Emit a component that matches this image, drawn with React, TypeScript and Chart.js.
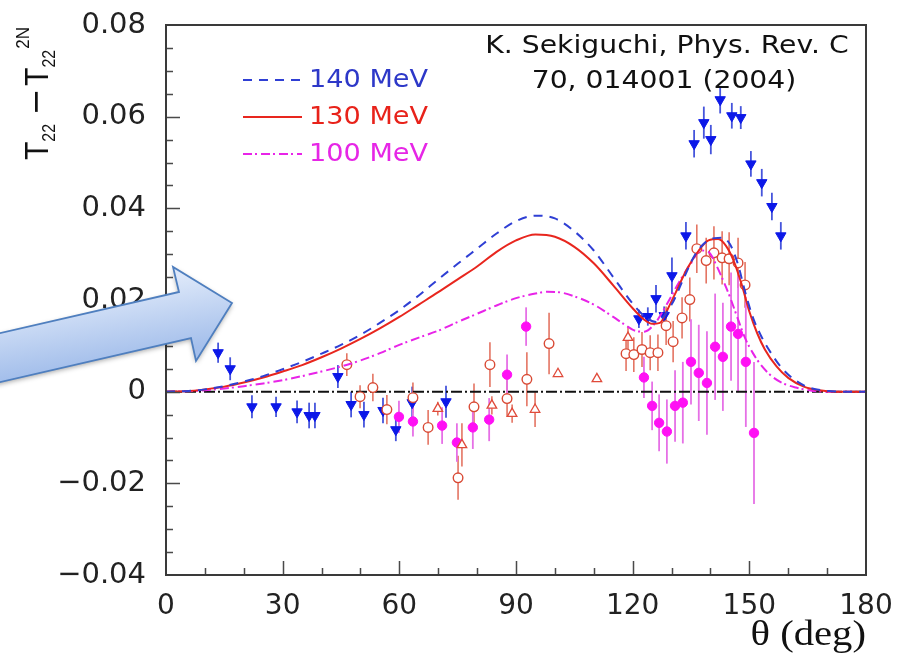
import React, { useEffect, useRef } from "react";
import { Chart, registerables } from "chart.js";

Chart.register(...registerables);

// ---- axes ----
const xTickValues = [0, 30, 60, 90, 120, 150, 180];
const xTickLabels = ["0", "30", "60", "90", "120", "150", "180"];
const yTickValues = [-0.04, -0.02, 0, 0.02, 0.04, 0.06, 0.08];
const yTickLabels = ["−0.04", "−0.02", "0", "0.02", "0.04", "0.06", "0.08"];

// ---- theoretical curves ----
const curveLabels = ["140 MeV", "130 MeV", "100 MeV"];

const theta140 = [0, 5, 10, 15, 20, 25, 30, 35, 40, 45, 50, 55, 60, 65, 70, 75, 80, 85, 90, 95, 100, 105, 110, 115, 120, 123, 126, 130, 133, 136, 139, 141, 143, 145, 147, 149, 151, 153, 155, 158, 161, 165, 170, 175, 180];
const value140 = [0, 0.0001, 0.0005, 0.0012, 0.0022, 0.0034, 0.0049, 0.0065, 0.0083, 0.0102, 0.0124, 0.015, 0.0178, 0.021, 0.0245, 0.0279, 0.0312, 0.0345, 0.0372, 0.0384, 0.0378, 0.035, 0.0308, 0.025, 0.0192, 0.0165, 0.0152, 0.019, 0.0245, 0.0298, 0.0328, 0.0335, 0.0336, 0.0322, 0.028, 0.0215, 0.016, 0.0122, 0.0092, 0.0055, 0.003, 0.001, 0.0002, 0, 0];

const theta130 = [0, 5, 10, 15, 20, 25, 30, 35, 40, 45, 50, 55, 60, 65, 70, 75, 80, 85, 90, 95, 100, 105, 110, 115, 120, 123, 125, 127, 129, 131, 134, 137, 139.5, 142, 144, 146, 148, 150, 152, 154, 157, 160, 164, 168, 172, 180];
const value130 = [0, 0.0001, 0.0005, 0.0011, 0.002, 0.0031, 0.0044, 0.0058, 0.0075, 0.0094, 0.0115, 0.0138, 0.0163, 0.019, 0.0217, 0.0245, 0.0273, 0.0305, 0.033, 0.0343, 0.0338, 0.0316, 0.028, 0.0232, 0.0182, 0.0157, 0.0148, 0.015, 0.018, 0.0215, 0.0268, 0.0308, 0.033, 0.0333, 0.0318, 0.0285, 0.0235, 0.0175, 0.0128, 0.0092, 0.0055, 0.003, 0.0011, 0.0003, 0, 0];

const theta100 = [0, 5, 10, 15, 20, 25, 30, 35, 40, 45, 50, 55, 60, 65, 70, 75, 80, 85, 90, 95, 98, 101, 105, 110, 115, 118, 121, 123, 126, 129, 132, 135, 137.5, 139.5, 141.5, 143.5, 145, 147, 149, 151, 153, 156, 159, 162, 166, 170, 180];
const value100 = [0, 0.0001, 0.0003, 0.0007, 0.0012, 0.0018, 0.0025, 0.0034, 0.0044, 0.0055, 0.0068, 0.0084, 0.0102, 0.0118, 0.0133, 0.0152, 0.017, 0.0188, 0.0204, 0.0214, 0.0218, 0.0217, 0.0208, 0.019, 0.0163, 0.0146, 0.0132, 0.0131, 0.0152, 0.0194, 0.024, 0.028, 0.0308, 0.0305, 0.0276, 0.0238, 0.0207, 0.016, 0.0115, 0.0083, 0.0058, 0.0032, 0.0017, 0.0009, 0.0002, 0, 0];

// reference line at zero
const zeroTheta = [0, 180];
const zeroValue = [0, 0];

// ---- measured points ----
// blue downward triangles
const triDownTheta = [13.4, 16.5, 22.1, 28.3, 33.7, 36.8, 38.3, 44.2, 47.6, 50.9, 55.8, 59.1, 63.3, 72.0, 121.6, 123.9, 126.0, 128.1, 130.1, 133.7, 135.8, 138.3, 140.1, 142.5, 145.5, 147.8, 150.4, 153.2, 155.8, 158.1];
const triDownValue = [0.0085, 0.005, -0.0033, -0.0033, -0.0044, -0.0052, -0.0052, 0.0033, -0.0028, -0.005, -0.0041, -0.0083, -0.0024, -0.0022, 0.0159, 0.0164, 0.0203, 0.0166, 0.0253, 0.034, 0.0541, 0.0587, 0.055, 0.0637, 0.0602, 0.0598, 0.0497, 0.0456, 0.0404, 0.034];
const triDownError = [0.0022, 0.0025, 0.0025, 0.0022, 0.0025, 0.0028, 0.0028, 0.0025, 0.0028, 0.0028, 0.0028, 0.0025, 0.0035, 0.0035, 0.002, 0.002, 0.003, 0.002, 0.004, 0.003, 0.003, 0.0035, 0.0032, 0.003, 0.0028, 0.0025, 0.0028, 0.003, 0.003, 0.003];

// red open circles
const openCircleTheta = [46.5, 49.9, 53.2, 56.8, 63.5, 67.4, 75.1, 79.2, 83.3, 87.7, 92.8, 98.5, 118.3, 120.3, 122.4, 124.5, 126.5, 128.6, 130.4, 132.7, 134.7, 136.5, 138.9, 140.9, 143.0, 144.8, 147.1, 148.9];
const openCircleValue = [0.0059, -0.0011, 0.0009, -0.0039, -0.0013, -0.0078, -0.0188, -0.0033, 0.0059, -0.0015, 0.0027, 0.0105, 0.0083, 0.0081, 0.0092, 0.0085, 0.0085, 0.0144, 0.0109, 0.0161, 0.0201, 0.0312, 0.0286, 0.0303, 0.0292, 0.029, 0.0281, 0.0233];
const openCircleError = [0.0025, 0.0025, 0.003, 0.0032, 0.0033, 0.0038, 0.0048, 0.0051, 0.0049, 0.004, 0.0059, 0.0067, 0.0038, 0.0038, 0.0038, 0.0038, 0.004, 0.0042, 0.0045, 0.0045, 0.0048, 0.0053, 0.005, 0.0058, 0.0058, 0.0058, 0.0055, 0.005];

// magenta filled circles
const dotTheta = [59.9, 63.5, 71.0, 74.8, 78.9, 83.1, 87.7, 92.6, 122.9, 125.0, 126.8, 128.8, 130.9, 132.9, 135.0, 137.0, 139.1, 141.2, 143.2, 145.3, 147.1, 149.1, 151.2];
const dotValue = [-0.0055, -0.0065, -0.0074, -0.0111, -0.0078, -0.0061, 0.0037, 0.0142, 0.0031, -0.0031, -0.0068, -0.0087, -0.0031, -0.0024, 0.0065, 0.0041, 0.0019, 0.0098, 0.0076, 0.0142, 0.0126, 0.0065, -0.009];
const dotError = [0.0035, 0.0033, 0.004, 0.0042, 0.0047, 0.0047, 0.0044, 0.0042, 0.0045, 0.0053, 0.0062, 0.007, 0.0078, 0.0089, 0.0093, 0.0105, 0.0113, 0.0116, 0.0118, 0.0118, 0.0127, 0.0142, 0.0155];

// red open triangles
const triUpTheta = [69.9, 76.1, 83.8, 89.0, 94.9, 100.8, 110.8, 118.8];
const triUpValue = [-0.0037, -0.0116, -0.003, -0.0048, -0.0039, 0.0039, 0.0028, 0.0118];
const triUpError = [0.0015, 0.0047, 0.002, 0.002, 0.0038, 0, 0, 0.0025];

// ---- annotation text ----
const referenceLines = ["K. Sekiguchi, Phys. Rev. C", "70, 014001 (2004)"];
const xTitle = "θ (deg)";

const SANS = '"DejaVu Sans", "Liberation Sans", sans-serif';
const STRETCH = 1.13;

const toPoints = (xs: number[], ys: number[]) => xs.map((x, i) => ({ x, y: ys[i] }));

// keep the plot box fixed: no extra room reserved for overhanging tick labels
const noOverhang = (s: any) => {
  s.paddingTop = 0;
  s.paddingBottom = 0;
  s.paddingLeft = 0;
  s.paddingRight = 0;
};

// vertical error bars, drawn beneath the markers
const errorBarPlugin = {
  id: "errorBars",
  beforeDatasetsDraw(chart: any) {
    const { ctx, chartArea: a, scales } = chart;
    const xs = scales.x;
    const ys = scales.y;
    ctx.save();
    ctx.beginPath();
    ctx.rect(a.left, a.top, a.width, a.height);
    ctx.clip();
    chart.data.datasets.forEach((ds: any) => {
      if (!ds.errors) return;
      ctx.strokeStyle = ds.errorColor;
      ctx.lineWidth = ds.errorWidth;
      ds.data.forEach((p: any, j: number) => {
        const e = ds.errors[j];
        if (!e) return;
        const px = xs.getPixelForValue(p.x);
        ctx.beginPath();
        ctx.moveTo(px, ys.getPixelForValue(p.y - e));
        ctx.lineTo(px, ys.getPixelForValue(p.y + e));
        ctx.stroke();
      });
    });
    ctx.restore();
  },
};

// frame with inward major/minor ticks
const framePlugin = {
  id: "frame",
  afterDatasetsDraw(chart: any) {
    const { ctx, chartArea: a, scales } = chart;
    const xs = scales.x;
    const ys = scales.y;
    ctx.save();
    ctx.strokeStyle = "#4a4a4a";
    ctx.lineWidth = 1.5;
    ctx.beginPath();
    for (let k = 1; k < 18; k++) {
      const px = Math.round(xs.getPixelForValue(k * 10)) + 0.5;
      const len = k % 3 === 0 ? 14 : 7;
      ctx.moveTo(px, a.bottom);
      ctx.lineTo(px, a.bottom - len);
    }
    for (let k = -7; k < 16; k++) {
      const py = Math.round(ys.getPixelForValue(k * 0.005)) + 0.5;
      const len = k % 4 === 0 ? 14 : 7;
      ctx.moveTo(a.left, py);
      ctx.lineTo(a.left + len, py);
    }
    ctx.stroke();
    ctx.strokeStyle = "#3a3a3a";
    ctx.lineWidth = 2;
    ctx.strokeRect(a.left, a.top, a.width, a.height);
    ctx.restore();
  },
};

// legend, reference note, axis titles and the pointer arrow
const decorPlugin = {
  id: "decor",
  afterDraw(chart: any) {
    const { ctx, chartArea: a } = chart;
    ctx.save();

    // legend for the three calculations
    const rows = [a.top + 55, a.top + 92, a.top + 129];
    for (let i = 0; i < 3; i++) {
      const ds = chart.data.datasets[i];
      const y = rows[i];
      ctx.save();
      ctx.strokeStyle = ds.borderColor;
      ctx.lineWidth = ds.borderWidth;
      ctx.setLineDash(ds.borderDash || []);
      ctx.beginPath();
      ctx.moveTo(a.left + 77, y);
      ctx.lineTo(a.left + 136, y);
      ctx.stroke();
      ctx.restore();
      ctx.save();
      ctx.translate(a.left + 143, y);
      ctx.scale(STRETCH, 1);
      ctx.fillStyle = ds.legendTextColor;
      ctx.font = `24px ${SANS}`;
      ctx.textBaseline = "middle";
      ctx.fillText(curveLabels[i], 0, 1);
      ctx.restore();
    }

    // reference note
    ctx.fillStyle = "#111";
    ctx.font = `25px ${SANS}`;
    ctx.textAlign = "center";
    ctx.textBaseline = "alphabetic";
    const noteX = [667, 664];
    const noteY = [53, 88];
    referenceLines.forEach((t, i) => {
      ctx.save();
      ctx.translate(noteX[i], noteY[i]);
      ctx.scale(STRETCH, 1);
      ctx.fillText(t, 0, 0);
      ctx.restore();
    });

    // x axis title
    ctx.save();
    ctx.translate(a.right, 645);
    ctx.scale(STRETCH, 1);
    ctx.textAlign = "right";
    ctx.font = '36px "Liberation Serif", "DejaVu Serif", serif';
    ctx.fillStyle = "#111";
    ctx.fillText(xTitle, 0, 0);
    ctx.restore();

    // y axis title: T22 - T22^2N, rotated
    ctx.save();
    ctx.translate(48, 160);
    ctx.scale(STRETCH, 1);
    ctx.rotate(-Math.PI / 2);
    ctx.fillStyle = "#111";
    ctx.textAlign = "left";
    ctx.textBaseline = "alphabetic";
    let u = 0;
    const put = (txt: string, size: number, v: number) => {
      ctx.font = `${size}px "Liberation Sans", sans-serif`;
      ctx.fillText(txt, u, v);
      u += ctx.measureText(txt).width;
    };
    put("T", 30, 0);
    put("22", 16, 6);
    u += 12;
    ctx.fillRect(u, -11.5, 20, 2.4);
    u += 26;
    put("T", 30, 0);
    put("22", 16, 6);
    u += 1;
    put("2N", 17, -17);
    ctx.restore();

    // pointer arrow
    ctx.save();
    ctx.beginPath();
    ctx.moveTo(-30, 340);
    ctx.lineTo(179, 292);
    ctx.lineTo(173, 267);
    ctx.lineTo(232, 303);
    ctx.lineTo(196, 361);
    ctx.lineTo(191, 338);
    ctx.lineTo(-30, 389);
    ctx.closePath();
    const g = ctx.createLinearGradient(100, 290, 112, 362);
    g.addColorStop(0, "#dce7f9");
    g.addColorStop(1, "#a4bfeb");
    ctx.fillStyle = g;
    ctx.shadowColor = "rgba(0,0,0,0.35)";
    ctx.shadowBlur = 5;
    ctx.shadowOffsetY = 2;
    ctx.fill();
    ctx.shadowColor = "transparent";
    ctx.strokeStyle = "#4f7fbf";
    ctx.lineWidth = 1.8;
    ctx.lineJoin = "miter";
    ctx.stroke();
    ctx.restore();

    ctx.restore();
  },
};

export default function App() {
  const canvasRef = useRef<HTMLCanvasElement | null>(null);

  useEffect(() => {
    const canvas = canvasRef.current;
    if (!canvas) return;

    const curve = (label: string, xs: number[], ys: number[], color: string, dash: number[], textColor: string) => ({
      type: "line" as const,
      label,
      data: toPoints(xs, ys),
      showLine: true,
      borderColor: color,
      borderWidth: 2,
      borderDash: dash,
      pointRadius: 0,
      fill: false,
      cubicInterpolationMode: "monotone" as const,
      legendTextColor: textColor,
      order: 0,
    });

    const chart = new Chart(canvas, {
      type: "scatter",
      data: {
        datasets: [
          curve(curveLabels[0], theta140, value140, "#2f3fd4", [9, 7], "#2d38c8"),
          curve(curveLabels[1], theta130, value130, "#e8261e", [], "#e8221a"),
          curve(curveLabels[2], theta100, value100, "#e824e8", [9, 3, 2, 4], "#e626e6"),
          {
            type: "line" as const,
            label: "zero",
            data: toPoints(zeroTheta, zeroValue),
            showLine: true,
            borderColor: "#111",
            borderWidth: 2,
            borderDash: [11, 3, 2, 3],
            pointRadius: 0,
            order: 6,
          },
          {
            label: "down triangles",
            data: toPoints(triDownTheta, triDownValue),
            pointStyle: "triangle",
            pointRotation: 180,
            pointRadius: 6,
            pointBackgroundColor: "#0c18e8",
            pointBorderColor: "#0c18e8",
            pointBorderWidth: 1,
            errors: triDownError,
            errorColor: "#4655dc",
            errorWidth: 1.8,
            order: 3,
          },
          {
            label: "open circles",
            data: toPoints(openCircleTheta, openCircleValue),
            pointStyle: "circle",
            pointRadius: 4.8,
            pointBackgroundColor: "#ffffff",
            pointBorderColor: "#d94a35",
            pointBorderWidth: 1.4,
            errors: openCircleError,
            errorColor: "#e0604c",
            errorWidth: 1.4,
            order: 2,
          },
          {
            label: "filled circles",
            data: toPoints(dotTheta, dotValue),
            pointStyle: "circle",
            pointRadius: 4.7,
            pointBackgroundColor: "#ff10f4",
            pointBorderColor: "#ff10f4",
            pointBorderWidth: 1,
            errors: dotError,
            errorColor: "#e670e6",
            errorWidth: 1.8,
            order: 4,
          },
          {
            label: "open triangles",
            data: toPoints(triUpTheta, triUpValue),
            pointStyle: "triangle",
            pointRadius: 5.5,
            pointBackgroundColor: "#ffffff",
            pointBorderColor: "#e04a3a",
            pointBorderWidth: 1.3,
            errors: triUpError,
            errorColor: "#e0604c",
            errorWidth: 1.4,
            order: 1,
          },
        ] as any,
      },
      options: {
        animation: false,
        responsive: false,
        devicePixelRatio: 1,
        events: [],
        layout: { padding: { left: 0, right: 34, top: 25, bottom: 0 } },
        plugins: {
          legend: { display: false },
          tooltip: { enabled: false },
          title: { display: false },
        },
        scales: {
          x: {
            type: "linear",
            min: 0,
            max: 180,
            afterFit: (s: any) => {
              s.height = 87;
              noOverhang(s);
            },
            afterBuildTicks: (s: any) => {
              s.ticks = xTickValues.map((v) => ({ value: v }));
            },
            ticks: {
              autoSkip: false,
              maxRotation: 0,
              padding: 15,
              color: "#222",
              font: { family: SANS, size: 28 },
              callback: (v: any) => {
                const i = xTickValues.indexOf(Number(v));
                return i >= 0 ? xTickLabels[i] : "";
              },
            },
            grid: { display: false, drawTicks: false },
            border: { display: false },
          },
          y: {
            type: "linear",
            min: -0.04,
            max: 0.08,
            afterFit: (s: any) => {
              s.width = 166;
              noOverhang(s);
            },
            afterBuildTicks: (s: any) => {
              s.ticks = yTickValues.map((v) => ({ value: v }));
            },
            ticks: {
              autoSkip: false,
              padding: 20,
              color: "#222",
              font: { family: SANS, size: 29 },
              callback: (v: any) => {
                const i = yTickValues.indexOf(Number(v));
                return i >= 0 ? yTickLabels[i] : "";
              },
            },
            grid: { display: false, drawTicks: false },
            border: { display: false },
          },
        },
      } as any,
      plugins: [errorBarPlugin, framePlugin, decorPlugin],
    });

    return () => chart.destroy();
  }, []);

  return (
    <div style={{ position: "absolute", left: 0, top: 0, width: 900, height: 662, background: "#fff" }}>
      <canvas ref={canvasRef} width={900} height={662} style={{ display: "block" }} />
    </div>
  );
}
